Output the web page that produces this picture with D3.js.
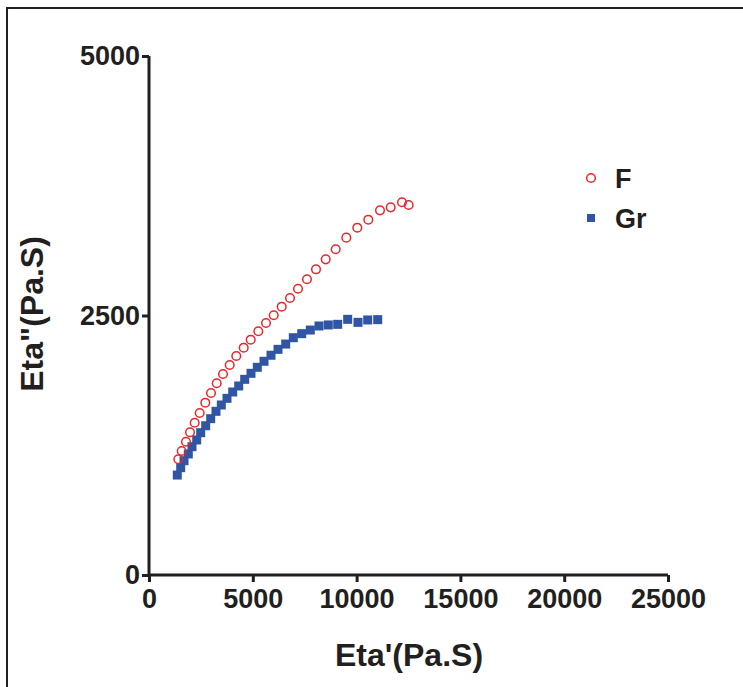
<!DOCTYPE html>
<html><head><meta charset="utf-8">
<script src="https://cdn.jsdelivr.net/npm/d3@7"></script>
<style>body{margin:0;background:#fff}svg{display:block}text{font-family:"Liberation Sans",Arial,sans-serif;font-weight:bold;fill:#231f20}</style>
</head><body>
<script>
const fX=[1411,1575,1782,1975,2201,2442,2712,2987,3261,3565,3887,4205,4562,4899,5265,5636,6007,6392,6792,7177,7611,8044,8512,8993,9504,10034,10564,11127,11643,12187,12510];
const fY=[1115,1195,1284,1375,1467,1561,1660,1753,1847,1936,2023,2110,2190,2267,2348,2428,2502,2585,2669,2758,2849,2945,3041,3138,3250,3346,3423,3513,3542,3591,3565];
const grX=[1363,1527,1686,1893,2071,2298,2490,2731,2972,3227,3483,3757,4032,4321,4610,4913,5217,5540,5877,6214,6585,6951,7356,7770,8189,8637,9090,9571,10068,10535,11017];
const grY=[963,1034,1101,1166,1236,1301,1371,1438,1506,1577,1638,1702,1763,1821,1885,1943,2001,2059,2117,2174,2225,2286,2325,2360,2399,2409,2415,2463,2434,2457,2460];
const xTicks=[0,5000,10000,15000,20000,25000];
const yTicks=[0,2500,5000];
const seriesNames=["F","Gr"];
const xTitle="Eta'(Pa.S)", yTitle='Eta"(Pa.S)';

const W=743,H=687;
const svg=d3.select("body").append("svg").attr("width",W).attr("height",H);
svg.append("rect").attr("x",7).attr("y",8).attr("width",900).attr("height",900)
  .attr("fill","none").attr("stroke","#231f20").attr("stroke-width",2);

const x=d3.scaleLinear().domain([0,25000]).range([149,668]);
const y=d3.scaleLinear().domain([0,5000]).range([575,56]);

const gx=svg.append("g").attr("transform","translate(0,575)")
  .call(d3.axisBottom(x).tickValues(xTicks).tickSize(7).tickPadding(6).tickFormat(d3.format("d")));
const gy=svg.append("g").attr("transform","translate(149,0)")
  .call(d3.axisLeft(y).tickValues(yTicks).tickSize(7).tickPadding(2).tickFormat(d3.format("d")));
[gx,gy].forEach(g=>{
  g.select(".domain").attr("stroke","#231f20").attr("stroke-width",3);
  g.selectAll(".tick line").attr("stroke","#231f20").attr("stroke-width",3);
  g.selectAll(".tick text").attr("font-size",27).attr("font-family","Liberation Sans, Arial, sans-serif").attr("font-weight","bold").attr("fill","#231f20");
});
gx.select(".domain").attr("d","M149,0H668");
gy.select(".domain").attr("d","M0,575V56");
gx.selectAll(".tick text").attr("dy","0.75em");

svg.append("text").attr("x",409).attr("y",666).attr("text-anchor","middle").attr("font-size",32).text(xTitle);
svg.append("text").attr("transform","translate(43,314) rotate(-90)").attr("text-anchor","middle").attr("font-size",32).text(yTitle);

const red="#e8262a", blue="#2f55a4";
const fData=fX.map((v,i)=>({x:v,y:fY[i]}));
const gData=grX.map((v,i)=>({x:v,y:grY[i]}));
svg.append("g").selectAll("rect").data(gData).join("rect")
  .attr("x",d=>x(d.x)-4.5).attr("y",d=>y(d.y)-4.5).attr("width",9).attr("height",9).attr("fill",blue);
svg.append("g").selectAll("circle").data(fData).join("circle")
  .attr("cx",d=>x(d.x)).attr("cy",d=>y(d.y)).attr("r",4.3).attr("fill","none").attr("stroke",red).attr("stroke-width",1.5);

// legend
svg.append("circle").attr("cx",591).attr("cy",178).attr("r",4.3).attr("fill","none").attr("stroke",red).attr("stroke-width",1.5);
svg.append("rect").attr("x",587).attr("y",214).attr("width",8).attr("height",8).attr("fill",blue);
svg.append("text").attr("x",615).attr("y",188).attr("font-size",27).text(seriesNames[0]);
svg.append("text").attr("x",615).attr("y",228).attr("font-size",27).text(seriesNames[1]);
</script>
</body></html>
